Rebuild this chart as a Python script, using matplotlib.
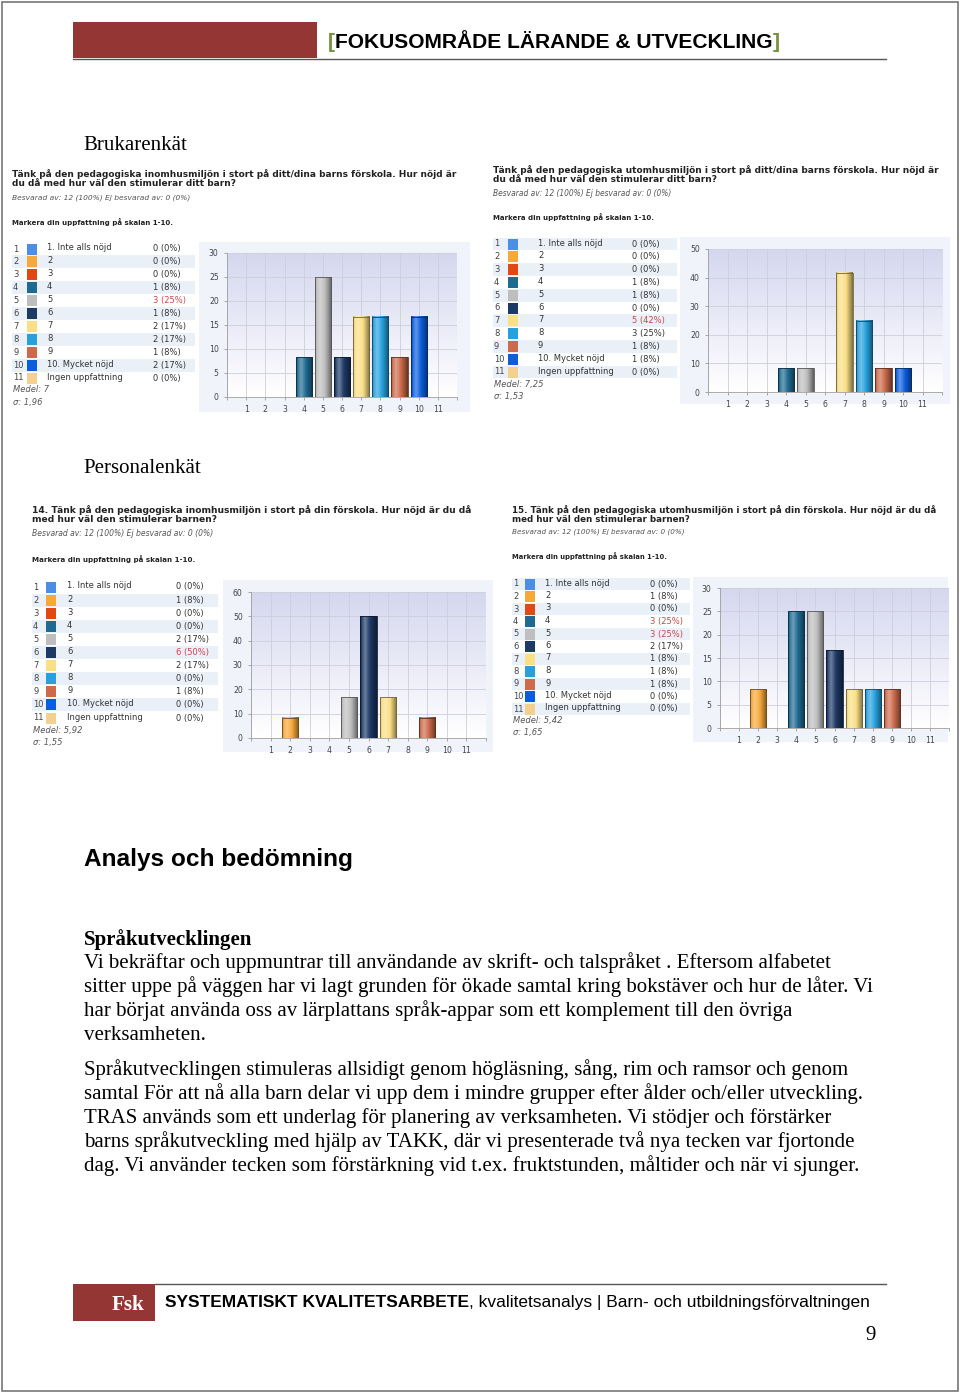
import numpy as np
import matplotlib.pyplot as plt
from matplotlib.colors import to_rgb
from matplotlib.patches import Rectangle

# page size in pixels (dpi 100)
W, H = 960, 1393

# ---------------------------------------------------------------- data

score_ticks = list(range(1, 12))
score_labels = ['1. Inte alls nöjd', '2', '3', '4', '5', '6', '7', '8', '9',
                '10. Mycket nöjd', 'Ingen uppfattning']
score_colors = ['#4C8EE6', '#F6A93B', '#E04A12', '#1F6A91', '#BEBEBE', '#1D3966',
                '#FADF85', '#27A1DE', '#CC6A4B', '#0B5DDC', '#F4D08E']

bruk_inne_counts = [0, 0, 0, 1, 3, 1, 2, 2, 1, 2, 0]
bruk_inne_pct = [0, 0, 0, 8.3, 25, 8.3, 16.7, 16.7, 8.3, 16.7, 0]
bruk_ute_counts = [0, 0, 0, 1, 1, 0, 5, 3, 1, 1, 0]
bruk_ute_pct = [0, 0, 0, 8.3, 8.3, 0, 41.7, 25, 8.3, 8.3, 0]
pers_inne_counts = [0, 1, 0, 0, 2, 6, 2, 0, 1, 0, 0]
pers_inne_pct = [0, 8.3, 0, 0, 16.7, 50, 16.7, 0, 8.3, 0, 0]
pers_ute_counts = [0, 1, 0, 3, 3, 2, 1, 1, 1, 0, 0]
pers_ute_pct = [0, 8.3, 0, 25, 25, 16.7, 8.3, 8.3, 8.3, 0, 0]

bruk_inne_title = ['Tänk på den pedagogiska inomhusmiljön i stort på ditt/dina barns förskola. Hur nöjd är',
                   'du då med hur väl den stimulerar ditt barn?']
bruk_ute_title = ['Tänk på den pedagogiska utomhusmiljön i stort på ditt/dina barns förskola. Hur nöjd är',
                  'du då med hur väl den stimulerar ditt barn?']
pers_inne_title = ['14. Tänk på den pedagogiska inomhusmiljön i stort på din förskola. Hur nöjd är du då',
                   'med hur väl den stimulerar barnen?']
pers_ute_title = ['15. Tänk på den pedagogiska utomhusmiljön i stort på din förskola. Hur nöjd är du då',
                  'med hur väl den stimulerar barnen?']
answered = 'Besvarad av: 12 (100%) Ej besvarad av: 0 (0%)'
scale_note = 'Markera din uppfattning på skalan 1-10.'
stats = {'bruk_inne': ('7', '1,96'), 'bruk_ute': ('7,25', '1,53'),
         'pers_inne': ('5,92', '1,55'), 'pers_ute': ('5,42', '1,65')}

para1 = ['Vi bekräftar och uppmuntrar till användande av skrift- och talspråket . Eftersom alfabetet',
         'sitter uppe på väggen har vi lagt grunden för ökade samtal kring bokstäver och hur de låter. Vi',
         'har börjat använda oss av lärplattans språk-appar som ett komplement till den övriga',
         'verksamheten.']
para2 = ['Språkutvecklingen stimuleras allsidigt genom högläsning, sång, rim och ramsor och genom',
         'samtal För att nå alla barn delar vi upp dem i mindre grupper efter ålder och/eller utveckling.',
         'TRAS används som ett underlag för planering av verksamheten. Vi stödjer och förstärker',
         'barns språkutveckling med hjälp av TAKK, där vi presenterade två nya tecken var fjortonde',
         'dag. Vi använder tecken som förstärkning vid t.ex. fruktstunden, måltider och när vi sjunger.']

# ---------------------------------------------------------------- page

fig = plt.figure(figsize=(W / 100, H / 100), dpi=100)
page = fig.add_axes([0, 0, 1, 1])
page.set_xlim(0, W)
page.set_ylim(H, 0)
page.axis('off')
renderer = fig.canvas.get_renderer()

RED = '#943634'
SERIF = 'Liberation Serif'
SANS = 'Liberation Sans'
UI = 'DejaVu Sans'
BODY = 15
TAB = 6


def fit_size(s, x0, x1, **kw):
    t = page.text(0, 0, s, fontsize=10, **kw)
    w = t.get_window_extent(renderer).width
    t.remove()
    return 10 * (x1 - x0) / w


def fit_text(x0, x1, y, s, **kw):
    size = fit_size(s, x0, x1, **kw)
    return page.text(x0, y, s, fontsize=size, **kw)


def run_text(x, y, parts, size, family):
    for s, kw in parts:
        t = page.text(x, y, s, fontsize=size, family=family, va='baseline', **kw)
        x += t.get_window_extent(renderer).width


# page frame
page.add_patch(Rectangle((1.5, 1.5), W - 3.5, H - 4, fc='none', ec='#777777', lw=1.2))

# header
page.add_patch(Rectangle((73, 22), 244, 36, fc=RED, ec='none'))
page.plot([73, 886], [58.5, 58.5], color='#555555', lw=1.0)
hsize = fit_size('[FOKUSOMRÅDE LÄRANDE & UTVECKLING]', 328, 779, family=SANS, weight='bold')
run_text(328, 48, [('[', dict(color='#76923C', weight='bold')),
                   ('FOKUSOMRÅDE LÄRANDE & UTVECKLING', dict(color='black', weight='bold')),
                   (']', dict(color='#76923C', weight='bold'))], hsize, SANS)

# footer
page.add_patch(Rectangle((73, 1284), 82, 37, fc=RED, ec='none'))
page.plot([155, 886], [1284, 1284], color='#555555', lw=1.0)
fit_text(112, 145, 1310, 'Fsk', family=SERIF, weight='bold', color='white', va='baseline')
full_footer = 'SYSTEMATISKT KVALITETSARBETE, kvalitetsanalys | Barn- och utbildningsförvaltningen'
fsize = fit_size(full_footer, 165, 876, family=SANS)
fsize = fsize * 0.985
run_text(165, 1307, [('SYSTEMATISKT KVALITETSARBETE', dict(weight='bold')),
                     (', kvalitetsanalys | Barn- och utbildningsförvaltningen', {})], fsize, SANS)
page.text(876, 1340, '9', family=SERIF, fontsize=BODY, ha='right', va='baseline')

# section headings
page.text(83, 150, 'Brukarenkät', family=SERIF, fontsize=BODY, va='baseline')
page.text(83, 473, 'Personalenkät', family=SERIF, fontsize=BODY, va='baseline')
fit_text(84, 352, 866, 'Analys och bedömning', family=SANS, weight='bold', va='baseline')
page.text(84, 945, 'Språkutvecklingen', family=SERIF, fontsize=BODY, weight='bold', va='baseline')
for i, line in enumerate(para1):
    page.text(84, 968 + 24 * i, line, family=SERIF, fontsize=BODY, va='baseline')
for i, line in enumerate(para2):
    page.text(84, 1075 + 24 * i, line, family=SERIF, fontsize=BODY, va='baseline')

# ---------------------------------------------------------------- survey blocks


def bar_colors(c, n=40):
    # cylinder like shading across the bar width
    t = np.linspace(0, 1, n)
    p = np.interp(t, [0, 0.1, 0.3, 0.55, 0.85, 1], [-0.3, 0.1, 0.35, 0.05, -0.3, -0.5])
    c = np.array(to_rgb(c))
    out = np.where(p[:, None] > 0, c + (1 - c) * p[:, None], c * (1 + p[:, None]))
    return out[None, :, :]


def survey(title, counts, pct, stat, lay):
    x0 = lay['x']
    tsize = fit_size(title[0], x0, lay['tx1'], family=UI, weight='bold')
    page.text(x0, lay['ty'], title[0], family=UI, weight='bold', fontsize=tsize, va='center', color='#222222')
    page.text(x0, lay['ty'] + lay['tdy'], title[1], family=UI, weight='bold', fontsize=tsize, va='center', color='#222222')
    fit_text(x0, lay['sx1'], lay['sy'], answered, family=UI, style='italic', color='#555555', va='center')
    fit_text(x0, lay['mx1'], lay['my'], scale_note, family=UI, weight='bold', color='#222222', va='center')

    # table
    top = max(counts)
    for i in range(11):
        y = lay['ry'] + lay['rdy'] * i
        if i % 2 == lay['parity']:
            page.add_patch(Rectangle((lay['sx0'], y - lay['rdy'] / 2), lay['sxw'], lay['rdy'],
                                     fc='#EAF0F8', ec='none'))
        page.text(lay['nx'], y, str(i + 1), family=UI, fontsize=TAB, color='#444444', va='center')
        page.add_patch(Rectangle((lay['qx'], y - 5.5), 10, 11, fc=score_colors[i], ec='none'))
        page.text(lay['lx'], y - 1, score_labels[i], family=UI, fontsize=TAB, color='#333333', va='center')
        page.text(lay['cx'], y, '%d (%d%%)' % (counts[i], round(pct[i])), family=UI, fontsize=TAB,
                  color='#C8464B' if counts[i] == top else '#333333', va='center')
    ylast = lay['ry'] + lay['rdy'] * 10
    page.text(lay['nx'], ylast + 12, 'Medel: ' + stat[0], family=UI, fontsize=TAB, style='italic',
              color='#555555', va='center')
    page.text(lay['nx'], ylast + 24, 'σ: ' + stat[1], family=UI, fontsize=TAB, style='italic',
              color='#555555', va='center')

    # chart panel
    px0, py0, px1, py1 = lay['panel']
    page.add_patch(Rectangle((px0, py0), px1 - px0, py1 - py0, fc='#F0F4FA', ec='none'))
    ax0, ay0, ax1, ay1 = lay['plot']
    ax = fig.add_axes([ax0 / W, 1 - ay1 / H, (ax1 - ax0) / W, (ay1 - ay0) / H])
    ymax, ystep = lay['ymax'], lay['ystep']
    g = np.linspace(0, 1, 64)[:, None, None]
    bg = np.array(to_rgb('#D5D7EF')) * (1 - g) + np.array(to_rgb('#FFFFFF')) * g
    ax.imshow(bg, extent=(0, 12, 0, ymax), aspect='auto', zorder=0)
    bw = 0.84
    for x, h, c in zip(score_ticks, pct, score_colors):
        if h <= 0:
            continue
        ax.imshow(bar_colors(c), extent=(x - bw / 2, x + bw / 2, 0, h), aspect='auto',
                  interpolation='bilinear', zorder=3)
        edge = np.array(to_rgb(c)) * 0.45
        ax.bar(x, h, bw, facecolor='none', edgecolor=edge, lw=0.6, zorder=4)
    ax.set_xlim(0, 12)
    ax.set_ylim(0, ymax)
    ax.set_xticks(range(13))
    ax.set_xticklabels([''] + [str(t) for t in score_ticks] + [''])
    ax.set_yticks(np.arange(0, ymax + 1, ystep))
    ax.grid(True, color='#CDCEDC', lw=0.6, zorder=1)
    ax.tick_params(length=2, width=0.5, color='#888888', labelsize=5.6, labelcolor='#444444', pad=4)
    for side in ['top', 'right']:
        ax.spines[side].set_visible(False)
    for side in ['left', 'bottom']:
        ax.spines[side].set_color('#A0A0A0')
        ax.spines[side].set_linewidth(0.6)


layouts = {
    'bruk_inne': dict(x=12, tx1=457, ty=174, tdy=9, sx1=190, sy=198, mx1=172, my=222,
                      ry=249, rdy=12.9, sx0=12, sxw=183, parity=1, nx=13, qx=27, lx=47, cx=153,
                      panel=(199, 242, 470, 412), plot=(227, 253, 457, 397), ymax=30, ystep=5),
    'bruk_ute': dict(x=493, tx1=940, ty=170, tdy=9, sx1=672, sy=193, mx1=653, my=217,
                     ry=244, rdy=12.8, sx0=493, sxw=184, parity=0, nx=494, qx=508, lx=538, cx=632,
                     panel=(680, 237, 950, 404), plot=(708, 249, 942, 392), ymax=50, ystep=10),
    'pers_inne': dict(x=32, tx1=473, ty=510, tdy=10, sx1=213, sy=534, mx1=195, my=559,
                      ry=587, rdy=13.1, sx0=32, sxw=186, parity=1, nx=33, qx=46, lx=67, cx=176,
                      panel=(223, 580, 493, 752), plot=(251, 592, 486, 738), ymax=60, ystep=10),
    'pers_ute': dict(x=512, tx1=935, ty=510, tdy=9, sx1=685, sy=532, mx1=667, my=556,
                     ry=584, rdy=12.5, sx0=512, sxw=178, parity=0, nx=513, qx=525, lx=545, cx=650,
                     panel=(693, 577, 948, 742), plot=(720, 588, 949, 728), ymax=30, ystep=5),
}

survey(bruk_inne_title, bruk_inne_counts, bruk_inne_pct, stats['bruk_inne'], layouts['bruk_inne'])
survey(bruk_ute_title, bruk_ute_counts, bruk_ute_pct, stats['bruk_ute'], layouts['bruk_ute'])
survey(pers_inne_title, pers_inne_counts, pers_inne_pct, stats['pers_inne'], layouts['pers_inne'])
survey(pers_ute_title, pers_ute_counts, pers_ute_pct, stats['pers_ute'], layouts['pers_ute'])

fig.savefig('out.png', dpi=100)
